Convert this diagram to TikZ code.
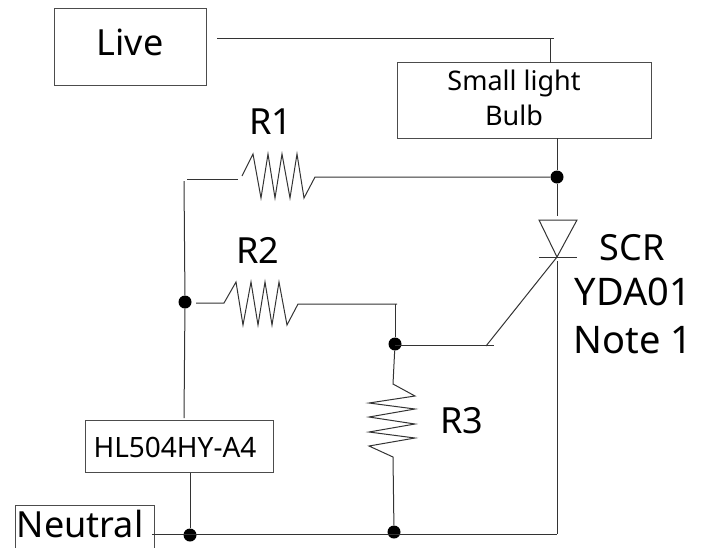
\documentclass[tikz,border=0pt]{standalone}
\usepackage{fontspec}
\setmainfont{Noto Sans}
\usetikzlibrary{positioning}
\tikzset{
	box/.style={draw=black!70, line width=0.8pt, inner sep=0pt, align=center},
	wire/.style={draw=black!80, line width=1pt},
	dot/.style={circle, fill=black, inner sep=0pt, minimum size=13pt},
	part/.style={inner sep=0pt, font=\fontsize{36}{40}\selectfont},
	scrtext/.style={inner sep=0pt, font=\fontsize{38}{42}\selectfont},
	bulbtext/.style={inner sep=0pt, align=center, font=\fontsize{27}{34.5}\selectfont}
}
\begin{document}
\begin{tikzpicture}[x=1pt,y=-1pt]
	\useasboundingbox (0,0) rectangle (705,547);

	\node[box, minimum width=152pt, minimum height=77pt] (LIVE) at (130,47) {};
	\node[part] (LIVE_TXT) at (130,42) {Live};
	\node[box, minimum width=254pt, minimum height=76pt] (BULB) at (524,100) {};
	\node[bulbtext] (BULB_TXT) at (514,98) {Small light\\Bulb};
	\node[box, minimum width=188pt, minimum height=52pt] (HL) at (179,446.5) {};
	\node[inner sep=0pt, font=\fontsize{28}{32}\selectfont] (HL_TXT) at (175,447) {HL504HY-A4};
	\node[box, minimum width=139pt, minimum height=50pt] (NEUTRAL) at (84.5,530) {};
	\node[part] (NEUTRAL_TXT) at (80,524) {Neutral};

	\node[dot] (D_R1) at (557,177) {};
	\node[dot] (D_R2) at (185,302) {};
	\node[dot] (D_GATE) at (395,344) {};
	\node[dot] (D_HL) at (190,535) {};
	\node[dot] (D_R3) at (394,532) {};

	\node[part] (L_R1) at (271,122) {R1};
	\node[part] (L_R2) at (258,250) {R2};
	\node[part] (L_R3) at (462,421) {R3};
	\node[part] (L_SCR) at (632,248) {SCR};
	\node[scrtext] (L_YDA) at (633,292) {YDA01};
	\node[scrtext] (L_NOTE) at (633,340) {Note 1};

	\coordinate (LIVE_E) at (217,38);
	\coordinate (LIVE_W) at (554,38);
	\coordinate (BULB_UP) at (550,38);
	\coordinate (BULB_DN) at (557,138);
	\coordinate (NEUTRAL_E) at (152,534);
	\coordinate (SCR_E) at (557,534);
	\coordinate (GATE_W) at (395,345.5);
	\coordinate (GATE_E) at (494,345.5);

	% top of the picture
	\draw[wire] (LIVE_E) -- (LIVE_W);
	\draw[wire] (BULB_UP) -- (550,63);
	\draw[wire] (BULB_DN) -- (D_R1);

	% R1
	\draw[wire] (D_R1) -- (315,177) -- (304,198) -- (297,154) -- (290,198) -- (282,154) -- (275,198) -- (268,154) -- (261,198) -- (253,154) -- (242,176);
	\draw[wire] (238,179) -- (187,179);
	\draw[wire] (184,181) -- (D_R2);
	\draw[wire] (D_R2) -- (184,418);

	% R2
	\draw[wire] (196,303) -- (224,303) -- (236,282) -- (243,325) -- (251,282) -- (258,325) -- (265,282) -- (272,325) -- (279,282) -- (287,325) -- (298,304) -- (397,304);
	\draw[wire] (395,304) -- (D_GATE);

	% R3
	\draw[wire] (D_GATE) -- (393,384) -- (415,396) -- (369,403) -- (415,409) -- (369,417) -- (415,424) -- (369,432) -- (415,438) -- (369,446) -- (393,457) -- (D_R3);

	% SCR
	\node[inner sep=0pt] (SCR_K) at (557,257) {};
	\draw[wire] (D_R1) -- (557,216);
	\draw[wire] (539,220) -- (577,220) -- (SCR_K.center) -- cycle;
	\draw[wire] (539,257) -- (577,257);
	\draw[wire] (SCR_K.center) -- (486,346);
	\draw[wire] (GATE_W) -- (GATE_E);
	\draw[wire] (557,261) -- (SCR_E);

	% bottom
	\draw[wire] (HL.south -| D_HL) -- (D_HL);
	\draw[wire] (NEUTRAL_E) -- (SCR_E);
\end{tikzpicture}
\end{document}
